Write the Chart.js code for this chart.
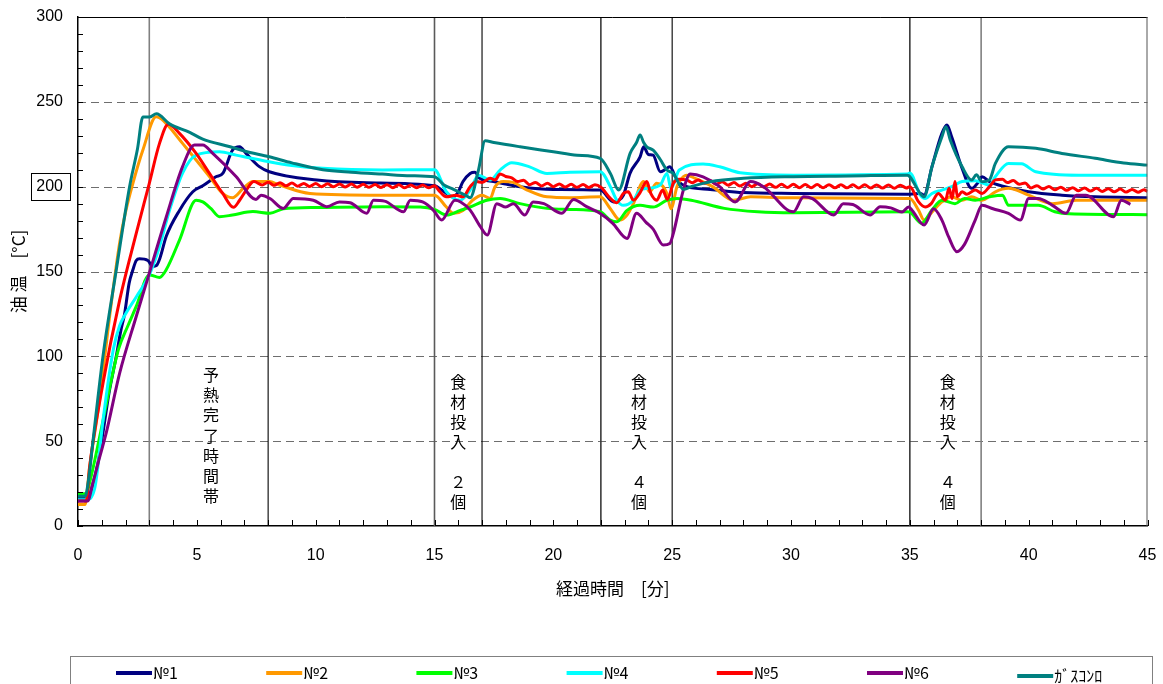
<!DOCTYPE html>
<html>
<head>
<meta charset="utf-8">
<script src="https://cdn.jsdelivr.net/npm/chart.js@4/dist/chart.umd.min.js"></script>
<style>
  html, body { margin: 0; padding: 0; background: #fff; }
  #wrap { width: 1163px; height: 684px; position: relative; }
</style>
</head>
<body>
<div id="wrap"><canvas id="c" width="1163" height="684"></canvas></div>
<script>
// ---- measured oil temperature [°C] vs elapsed time [min] ----
const seriesNames = ['№1', '№2', '№3', '№4', '№5', '№6', 'ｶﾞｽｺﾝﾛ'];

const no1 = [[0,16.5],[0.4,16.5],[0.63,25],[0.85,38],[1.05,55],[1.3,78],[1.61,100],[1.8,115],[1.96,125],[2.15,143],[2.31,151],[2.45,156.5],[2.59,157.5],[2.94,156.5],[3.15,153],[3.3,153.5],[3.45,158],[3.71,170.6],[4.27,186],[4.83,197],[5.25,200.5],[5.8,205.8],[6.1,208],[6.5,221.5],[6.8,223.5],[7.07,219.6],[7.63,211.8],[8.05,208.8],[10.05,203.9],[12.15,202.3],[15.0,200.5],[15.4,197],[15.8,194],[16.0,197],[16.2,203],[16.5,207.8],[16.7,208.5],[16.9,204.9],[17.48,203],[18.6,200],[20.0,198.4],[21.97,198],[22.54,191],[22.75,192],[22.95,195],[23.23,208],[23.65,217.6],[23.8,223.5],[24.0,219],[24.2,218.6],[24.5,208.8],[24.7,210],[24.9,211.7],[25.2,204],[25.62,200],[26.6,198.4],[28.0,196.5],[30.1,196],[34.9,195.6],[35.0,195.6],[35.44,196],[35.6,195],[35.93,211.7],[36.35,231.4],[36.56,236.3],[36.76,229.4],[37.2,210.8],[37.6,199],[37.9,203],[38.04,205.8],[38.35,203],[39.0,200],[40.0,197],[41.4,195],[42.8,194],[45,193.5]];

const no2 = [[0,12.7],[0.3,12.7],[0.49,35],[0.91,74.5],[1.33,123.5],[1.75,166.7],[2.0,185],[2.31,202],[2.73,221.6],[3.29,241.2],[3.5,240],[3.85,235],[4.4,225.5],[4.97,215.7],[5.53,206],[6.09,196],[6.5,193.5],[6.95,199],[7.36,203],[8.05,203],[8.47,201],[9.76,196],[12.8,195],[15.0,195],[15.5,188],[15.8,184.3],[16.2,186],[16.6,192],[17.0,195],[17.34,193],[17.55,200],[17.9,203],[18.3,202.5],[18.9,198],[19.73,194],[20.7,193.5],[21.97,194],[22.4,187],[22.8,180.3],[23.1,183.3],[23.37,190],[23.8,203],[24.05,197],[24.35,202],[24.78,196],[24.95,187],[25.2,200],[25.3,203],[25.6,206.8],[25.97,204.9],[26.7,200],[27.58,192],[28.3,194],[30.1,193.4],[34.9,193],[35.0,193],[35.37,186],[35.6,180.3],[35.93,185],[36.35,191],[36.76,194],[37.2,192],[37.6,194],[38.04,192],[38.6,197],[39.15,199],[40.0,195],[41.0,190],[42.0,192],[45,192]];

const no3 = [[0,19],[0.35,19],[0.49,25.5],[0.8,45],[1.05,62],[1.4,86],[1.7,104],[2.1,118],[2.45,129.4],[3.0,148],[3.43,146.5],[3.71,151],[4.27,168.5],[4.97,192],[5.25,191],[5.6,187],[5.95,182.3],[6.5,183.3],[7.36,185.3],[8.08,184.3],[8.64,187],[10.05,187.7],[12.8,188.2],[14.4,188],[15.0,186.6],[15.5,183.3],[16.08,186],[16.5,188],[17.2,192],[17.76,193],[18.6,190],[19.73,187.2],[20.7,186.6],[21.97,185.2],[22.4,180.3],[22.67,179.3],[23.1,186],[23.65,189],[24.2,188],[24.78,192],[25.2,193],[25.8,192],[27.2,187.2],[28.6,185.2],[30.1,184.6],[34.9,185.2],[35.0,185],[35.5,178.4],[35.93,186.2],[36.35,192],[36.9,190],[37.3,193],[37.75,192],[38.35,194],[38.9,195],[39.15,189],[39.7,189],[40.4,189],[41.1,185.2],[41.7,184],[45,183.5]];

const no4 = [[0,15.5],[0.35,15.5],[0.7,22],[1.05,62],[1.3,88],[1.5,105],[1.75,118],[2.0,125],[2.45,135],[3.0,148],[3.43,164.7],[3.85,186],[4.4,208],[4.97,218.6],[5.95,220.6],[6.65,218.6],[8.05,214.7],[9.0,212.5],[10.3,210.8],[12.8,209.8],[15.0,210],[15.5,197],[16.08,192],[16.5,198],[16.85,206.8],[17.34,203.9],[17.76,209.8],[18.25,214.1],[19.0,211.7],[19.73,207.8],[20.7,208.5],[21.97,208.8],[22.4,200],[22.67,192],[22.95,189],[23.37,192],[23.65,198],[24.0,199],[24.5,201],[24.78,207.8],[24.95,199],[25.3,209.8],[26.3,213.3],[27.0,211.7],[27.86,208.2],[30.1,206.8],[34.9,207.4],[35.0,208],[35.44,195],[35.65,193],[35.93,196],[36.35,198],[36.76,200],[37.2,203],[37.75,203.5],[38.35,201],[38.6,206],[39.15,213.7],[39.7,213.5],[40.3,208.8],[42.1,206.8],[45,206.8]];

const no5 = [[0,14.7],[0.35,14.7],[0.49,35],[1.05,84],[1.75,133],[2.45,172.5],[3.0,202],[3.43,225.5],[3.8,236.8],[4.27,231.4],[4.97,219.6],[5.53,207.8],[6.09,196],[6.54,187.8],[6.8,192],[7.08,198],[7.4,203],
  [7.75,201],[8.0,202.6],[8.25,200.8],[8.5,202.3],[8.75,200.5],[9.0,202.1],[9.25,200.3],[9.5,201.9],[9.75,200.1],[10.0,201.8],[10.25,200],[10.5,201.7],[10.75,199.9],[11.0,201.6],[11.25,199.8],[11.5,201.5],[11.75,199.7],[12.0,201.4],[12.25,199.6],[12.5,201.3],[12.75,199.5],[13.0,201.2],[13.25,199.4],[13.5,201.1],[13.75,199.3],[14.0,201],[14.25,199.3],[14.5,201],[14.75,199.3],[15.0,200.6],
  [15.17,198],[15.5,194],[15.9,195],[16.2,194],[16.5,200],[16.77,203],[17.0,202.5],[17.34,204.9],[17.55,204],[17.76,207.5],[18.0,206],[18.25,205.2],[18.5,203],[18.75,203.8],[19.0,201.2],[19.25,202.5],[19.5,200.4],[19.75,202],[20.0,200],[20.25,201.6],[20.5,199.8],[20.75,201.4],[21.0,199.6],[21.25,201.3],[21.5,199.5],[21.75,201.2],[22.0,199.7],
  [22.4,193.1],[22.67,190.5],[22.95,196],[23.15,197],[23.37,192],[23.65,196.5],[23.93,203],[24.1,196],[24.35,192],[24.6,198],[24.8,192.5],[25.05,202],[25.3,204.3],[25.6,204],[25.85,202.3],[26.1,204],[26.35,202],[26.6,203.5],[26.85,201.4],[27.1,202.9],[27.35,200.9],[27.6,202.4],[27.85,200.4],[28.1,202],[28.35,200],[28.6,201.7],[28.85,199.8],[29.1,201.5],[29.35,199.6],[29.6,201.4],[29.85,199.5],[30.1,201.4],[30.35,199.4],[30.6,201.3],[30.85,199.4],[31.1,201.3],[31.35,199.4],[31.6,201.2],[31.85,199.3],[32.1,201.2],[32.35,199.3],[32.6,201.1],[32.85,199.2],[33.1,201.1],[33.35,199.2],[33.6,201],[33.85,199.2],[34.1,201],[34.35,199.1],[34.6,200.9],[34.85,199.2],[35.0,200],
  [35.37,191],[35.65,188],[35.9,190],[36.2,196],[36.5,192],[36.65,199],[36.78,193],[36.9,203],[37.0,194],[37.2,197],[37.4,195.5],[37.75,198],[38.04,196],[38.35,200],[38.6,204],[38.9,204.3],[39.1,202.4],[39.35,203.6],[39.6,201.4],[39.85,202.2],[40.1,199.2],[40.35,200.6],[40.6,198.6],[40.85,200.1],[41.1,198.2],[41.35,199.7],[41.6,197.9],[41.85,199.4],[42.1,197.6],[42.35,199.2],[42.6,197.4],[42.85,199],[43.1,197.2],[43.35,198.8],[43.6,197],[43.85,198.6],[44.1,196.8],[44.35,198.4],[44.6,196.7],[44.85,198.2],[45,197.2]];

const no6 = [[0,14.7],[0.4,14.7],[0.63,25.5],[0.9,40],[1.19,55],[1.75,90],[2.45,123.5],[3.0,149],[3.71,182],[4.4,211.8],[4.9,224.5],[5.25,224.5],[5.67,219.6],[6.65,206],[7.49,192.5],[7.7,195],[8.08,193],[8.64,187.2],[9.06,193],[9.9,192],[10.47,188.2],[11.0,191],[11.45,190.5],[12.15,184.3],[12.43,192],[12.9,191.5],[13.7,185.2],[13.98,192],[14.5,191],[14.95,186.2],[15.3,180.3],[15.86,192],[16.1,191],[16.5,186.2],[16.93,176.4],[17.22,171.5],[17.62,190],[18.0,188],[18.32,190],[18.8,183.3],[19.15,191],[19.6,190],[20.36,184.3],[20.85,192.5],[21.4,188.2],[21.96,184.3],[22.5,178.4],[23.1,169.5],[23.5,184.3],[23.9,179],[24.2,175],[24.63,165.6],[24.9,166.5],[25.05,172.5],[25.47,198],[25.76,207.4],[26.3,205.8],[27.0,200],[27.65,191],[28.3,203],[28.84,200],[30.1,185.2],[30.53,194],[30.9,193],[31.8,183.3],[32.2,190],[32.6,189.5],[33.33,183.3],[33.75,188.2],[34.2,187.5],[34.67,185],[34.95,188],[35.1,186],[35.6,177.4],[36.0,187],[36.35,180.3],[36.63,170.5],[36.98,161.7],[37.3,166],[37.75,180.3],[38.04,189],[38.5,187],[39.15,184.3],[39.65,180.3],[40.0,193],[40.4,193],[41.0,189],[41.57,184.3],[42.0,195],[42.4,195],[43.57,182.3],[43.9,192],[44.28,189.6]];

const gasStove = [[0,17.5],[0.3,17.5],[0.45,28],[0.63,50],[1.05,100],[1.6,150],[2.17,200],[2.5,222],[2.73,241],[3.0,241],[3.3,243],[3.85,237],[4.7,232],[5.25,228],[6.4,223.5],[7.0,221],[8.05,217.6],[9.0,214],[10.3,210],[11.5,208.5],[12.8,207.4],[14.0,206.5],[15.0,205.8],[15.4,201],[15.8,198.4],[16.36,194.5],[16.5,193.5],[16.85,209.8],[17.13,227],[17.5,226],[18.6,223.5],[20.0,220.6],[21.0,218.5],[21.97,216.7],[22.4,207.8],[22.75,198],[23.23,219.6],[23.5,226],[23.65,230.5],[23.8,226],[23.93,223.5],[24.2,221.5],[24.5,216],[24.78,209.8],[25.05,207.8],[25.47,198.5],[25.8,200],[26.6,202.9],[28.0,204.9],[30.1,205.9],[32.5,206.3],[34.9,206.8],[35.0,205.8],[35.44,196],[35.6,194],[35.93,211.7],[36.35,229.4],[36.52,235.3],[36.7,227.5],[37.2,211.7],[37.6,203.9],[37.8,207],[38.04,202.9],[38.35,204],[38.6,213.7],[39.15,223.5],[40.3,222.6],[41.4,219.6],[42.8,216.7],[44.0,214],[45,212.7]];

const seriesData = [no1, no2, no3, no4, no5, no6, gasStove];

// axis ticks
const xTickValues = [0, 5, 10, 15, 20, 25, 30, 35, 40, 45];
const yTickValues = [0, 50, 100, 150, 200, 250, 300];

// event markers: times [min] and the notes written between them
const eventTimes = [3, 8, 15, 17, 22, 25, 35, 38];
const noteTimes = [5.6, 16, 23.6, 36.6];
const noteTexts = ['予熱完了時間帯', '食材投入　２個', '食材投入　４個', '食材投入　４個'];

// ---- styling ----
const seriesColors = ['#000080', '#FF9900', '#00FF00', '#00FFFF', '#FF0000', '#800080', '#008080'];
const eventLineColors = ['#808080', '#000', '#5a5a5a', '#000', '#3a3a3a', '#000', '#3a3a3a', '#808080'];
const SANS = "'Liberation Sans', Arial, sans-serif";
const JP = "'Noto Sans CJK JP', 'Noto Sans', sans-serif";

const decorations = {
  id: 'decorations',
  beforeDatasetsDraw(chart) {
    const {ctx, chartArea: a, scales: {x, y}} = chart;
    ctx.save();
    // dashed horizontal grid
    ctx.strokeStyle = '#6e6e6e';
    ctx.lineWidth = 1;
    ctx.setLineDash([8, 5]);
    yTickValues.forEach(v => {
      if (v === 0 || v === 300) return;
      const py = Math.round(y.getPixelForValue(v)) + 0.5;
      ctx.beginPath(); ctx.moveTo(a.left, py); ctx.lineTo(a.right, py); ctx.stroke();
    });
    ctx.setLineDash([]);
    // event marker lines
    eventTimes.forEach((t, i) => {
      const px = x.getPixelForValue(t);
      ctx.strokeStyle = eventLineColors[i];
      ctx.lineWidth = eventLineColors[i] === '#000' ? 1.1 : 1.6;
      ctx.beginPath(); ctx.moveTo(px, a.top); ctx.lineTo(px, a.bottom); ctx.stroke();
    });
    // notes, one character per row
    ctx.fillStyle = '#000';
    ctx.font = '16px ' + JP;
    ctx.textAlign = 'center';
    ctx.textBaseline = 'middle';
    noteTexts.forEach((txt, i) => {
      const px = x.getPixelForValue(noteTimes[i]);
      const start = y.getPixelForValue(i === 0 ? 89 : 85);
      const step = i === 0 ? 20.2 : 20;
      [...txt].forEach((ch, k) => {
        if (ch.trim() === '') return;
        ctx.fillText(ch, px, start + k * step);
      });
    });
    ctx.restore();
  },
  afterDraw(chart) {
    const {ctx, chartArea: a, scales: {x, y}} = chart;
    ctx.save();
    // frame: top and right
    ctx.strokeStyle = '#000';
    ctx.lineWidth = 1;
    ctx.beginPath(); ctx.moveTo(a.left, a.top + 0.5); ctx.lineTo(a.right, a.top + 0.5); ctx.stroke();
    ctx.strokeStyle = '#555';
    ctx.beginPath(); ctx.moveTo(a.right - 0.5, a.top); ctx.lineTo(a.right - 0.5, a.bottom); ctx.stroke();
    // inward tick marks
    ctx.strokeStyle = '#000';
    for (let t = 0; t <= 45; t++) {
      const px = Math.round(x.getPixelForValue(t)) + 0.5;
      ctx.beginPath(); ctx.moveTo(px, a.bottom); ctx.lineTo(px, a.bottom - 6); ctx.stroke();
    }
    for (let v = 0; v <= 300; v += 10) {
      const py = Math.round(y.getPixelForValue(v)) + 0.5;
      ctx.beginPath(); ctx.moveTo(a.left, py); ctx.lineTo(a.left + 5, py); ctx.stroke();
    }
    // box around the 200 label
    const p200 = y.getPixelForValue(200);
    ctx.strokeRect(31.5, Math.round(p200 - 14) + 0.5, 39, 27);
    // legend
    ctx.strokeStyle = '#808080';
    ctx.strokeRect(70.5, 656.5, 1082, 60);
    ctx.font = '16px ' + JP;
    ctx.textAlign = 'left';
    ctx.textBaseline = 'middle';
    chart.data.datasets.forEach((ds, i) => {
      const x0 = 116 + 150.2 * i;
      const ly = i === 6 ? 676 : 673;
      ctx.strokeStyle = ds.borderColor;
      ctx.lineWidth = 4;
      ctx.beginPath(); ctx.moveTo(x0, ly); ctx.lineTo(x0 + 36, ly); ctx.stroke();
      ctx.fillStyle = '#000';
      ctx.fillText(ds.label, x0 + 37, ly);
    });
    ctx.restore();
  }
};

new Chart(document.getElementById('c'), {
  type: 'line',
  data: {
    datasets: seriesData.map((pts, i) => ({
      label: seriesNames[i],
      data: pts.map(([t, v]) => ({x: t, y: v})),
      borderColor: seriesColors[i],
      backgroundColor: seriesColors[i],
      borderWidth: 3,
      pointRadius: 0,
      cubicInterpolationMode: 'monotone',
      fill: false,
      order: seriesData.length - 1 - i
    }))
  },
  options: {
    responsive: false,
    animation: false,
    devicePixelRatio: 1,
    layout: { padding: { left: 0, top: 17, right: 15.5, bottom: 78 } },
    plugins: { legend: { display: false }, tooltip: { enabled: false } },
    scales: {
      x: {
        type: 'linear', min: 0, max: 45,
        afterBuildTicks: s => { s.ticks = xTickValues.map(v => ({value: v})); },
        afterFit: s => { s.height = 80; },
        ticks: { color: '#000', font: { family: SANS, size: 16 }, padding: 3, maxRotation: 0 },
        grid: { display: false, drawTicks: true, tickLength: 17 },
        border: { display: true, color: '#000', width: 1.5 },
        title: { display: true, text: '経過時間　[分]', color: '#000', font: { family: JP, size: 17 }, padding: { top: 0, bottom: 7 } }
      },
      y: {
        type: 'linear', min: 0, max: 300,
        afterBuildTicks: s => { s.ticks = yTickValues.map(v => ({value: v})); },
        afterFit: s => { s.width = 78; },
        ticks: { color: '#000', font: { family: SANS, size: 16 }, padding: 3 },
        grid: { display: false, drawTicks: true, tickLength: 12 },
        border: { display: true, color: '#000', width: 1.5 },
        title: { display: true, text: '油 温　[°C]', color: '#000', font: { family: JP, size: 17 }, padding: { top: 8, bottom: 0 } }
      }
    }
  },
  plugins: [decorations]
});
</script>
</body>
</html>
